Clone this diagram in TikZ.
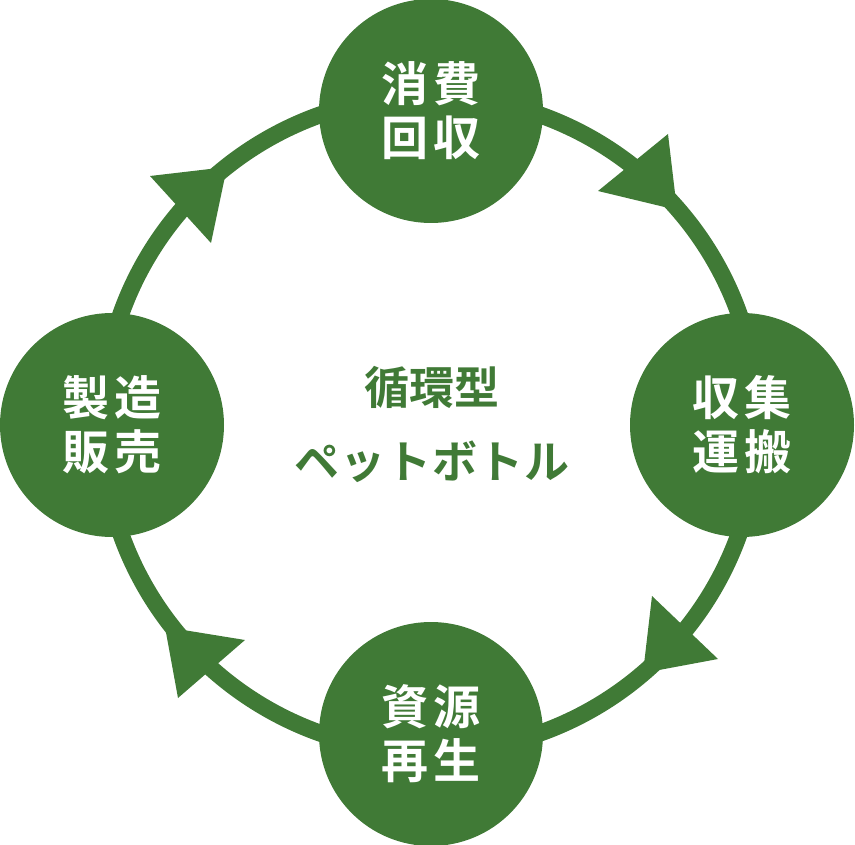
\documentclass[tikz,border=0pt]{standalone}
\usepackage{fontspec}
\newfontfamily\cjk{Noto Sans CJK JP Bold}
\definecolor{leaf}{RGB}{64,122,54}
\begin{document}
\begin{tikzpicture}[x=1pt,y=-1pt,
  stage/.style={circle,fill=leaf,minimum size=224pt,inner sep=0pt,text=white,
    font=\cjk\fontsize{47}{56}\selectfont,align=center},
  headtri/.style={fill=leaf}]
\useasboundingbox (0,0) rectangle (855,845);
% ring
\draw[leaf,line width=17pt] (430,424) circle[radius=328];
% arrowheads
\fill[headtri] (668,134) -- (598,191) -- (677,210) -- cycle;
\fill[headtri] (718,659) -- (652,596) -- (643,673) -- cycle;
\fill[headtri] (178,698) -- (245,640) -- (165,627) -- cycle;
\fill[headtri] (150,176) -- (211,243) -- (227,167) -- cycle;
% stages
\node[stage] (top) at (431,111) {消\hspace{6pt}費\\[-2pt]回\hspace{6pt}収};
\node[stage] (right) at (742,425) {収\hspace{6pt}集\\[-2pt]運\hspace{6pt}搬};
\node[stage] (bottom) at (431,734) {資\hspace{6pt}源\\[-2pt]再\hspace{6pt}生};
\node[stage] (left) at (112,425) {製\hspace{6pt}造\\[-2pt]販\hspace{6pt}売};
% centre
\node[text=leaf,font=\cjk\fontsize{45}{74}\selectfont,align=center] (centre) at (432,424)
  {循環型\\ペ\hspace{1pt}ッ\hspace{1pt}ト\hspace{1pt}ボ\hspace{1pt}ト\hspace{1pt}ル};
\end{tikzpicture}
\end{document}
